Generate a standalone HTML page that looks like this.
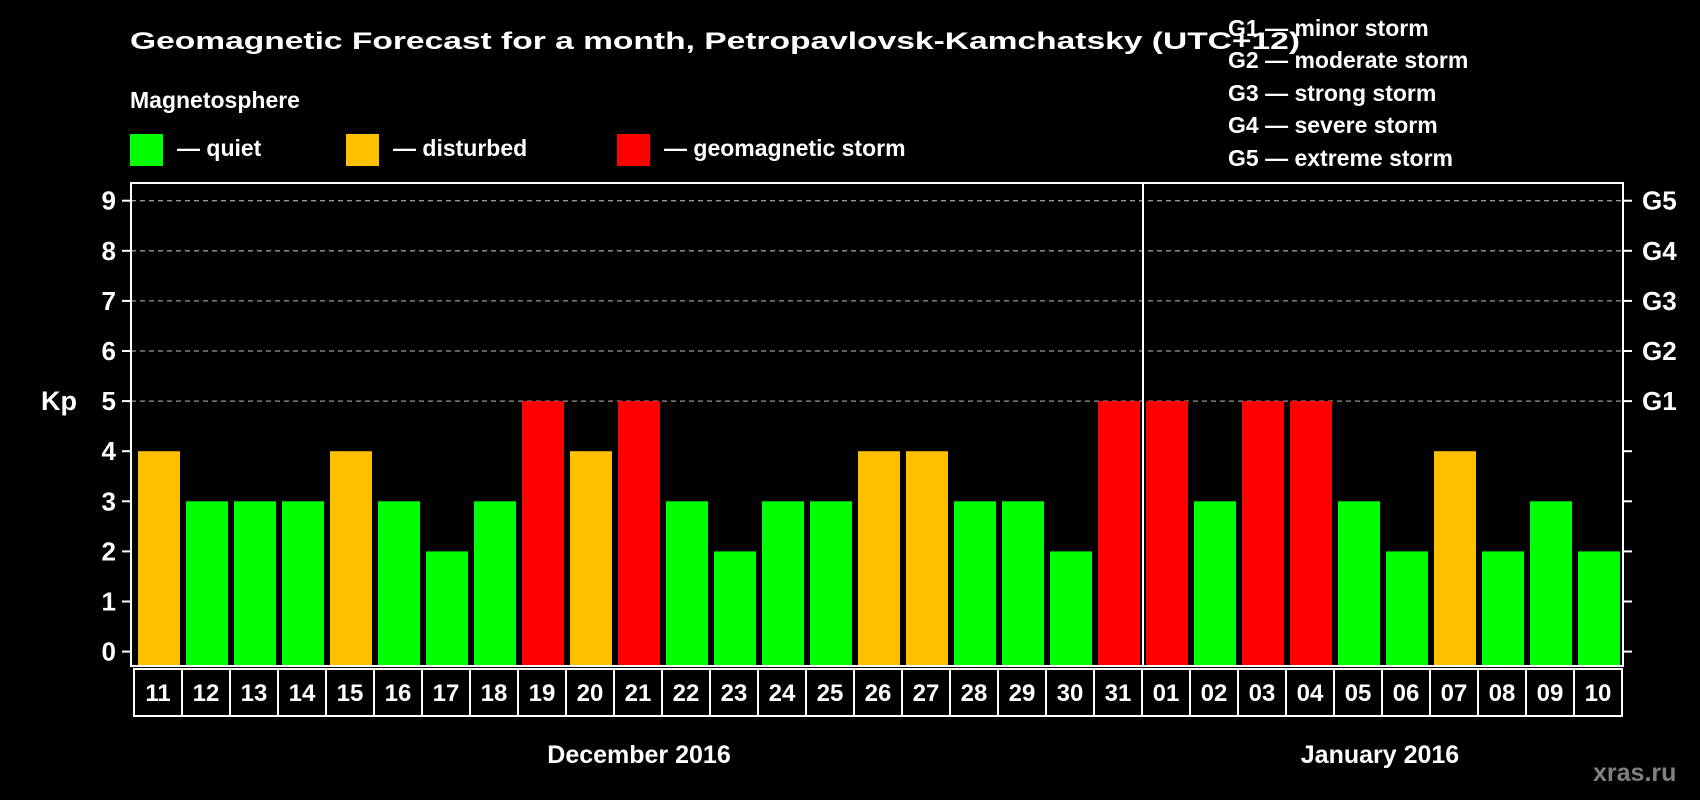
<!DOCTYPE html>
<html><head><meta charset="utf-8"><style>
html,body{margin:0;padding:0;background:#000;}
svg{display:block;}
text{font-family:"Liberation Sans",Arial,sans-serif;font-weight:bold;fill:#fff;}
</style></head><body>
<svg id="chart" width="1700" height="800" viewBox="0 0 1700 800" xmlns="http://www.w3.org/2000/svg">
<rect x="0" y="0" width="1700" height="800" fill="#000"/>
<text x="130" y="49" font-size="24" textLength="1170" lengthAdjust="spacingAndGlyphs">Geomagnetic Forecast for a month, Petropavlovsk-Kamchatsky (UTC+12)</text>
<text x="130" y="108" font-size="23">Magnetosphere</text>
<g><rect x="130" y="134" width="33" height="32" fill="#00ff00"/><text x="177" y="156" font-size="23">— quiet</text></g>
<g><rect x="346" y="134" width="33" height="32" fill="#ffc000"/><text x="393" y="156" font-size="23">— disturbed</text></g>
<g><rect x="617" y="134" width="33" height="32" fill="#ff0000"/><text x="664" y="156" font-size="23">— geomagnetic storm</text></g>
<g font-size="23">
<text x="1228" y="36">G1 — minor storm</text>
<text x="1228" y="68">G2 — moderate storm</text>
<text x="1228" y="101">G3 — strong storm</text>
<text x="1228" y="133">G4 — severe storm</text>
<text x="1228" y="166">G5 — extreme storm</text>
</g>
<text x="41" y="410" font-size="27">Kp</text>
<g id="grid"></g>
<g id="bars"></g>
<g id="axes"></g>
<text x="639" y="763" font-size="25" text-anchor="middle">December 2016</text>
<text x="1380" y="763" font-size="25" text-anchor="middle">January 2016</text>
<text x="1593" y="781" font-size="25" style="fill:#808080">xras.ru</text>
</svg>
<script>
const days = ["11","12","13","14","15","16","17","18","19","20","21","22","23","24","25","26","27","28","29","30","31","01","02","03","04","05","06","07","08","09","10"];
const kpValues = [4,3,3,3,4,3,2,3,5,4,5,3,2,3,3,4,4,3,3,2,5,5,3,5,5,3,2,4,2,3,2];
const yTicks = [0,1,2,3,4,5,6,7,8,9];
const gLabels = ["","","","","","G1","G2","G3","G4","G5"];

const NS = "http://www.w3.org/2000/svg";
const left = 134, pitch = 48, frameL = 131, frameR = 1623, frameT = 183, frameB = 666;
const y0 = 651.6, unit = 50.1;
function yScale(v){ return y0 - v*unit; }
function xScale(i){ return left + i*pitch; }
function mk(tag, attrs, parent){ const e = document.createElementNS(NS, tag); for (const k in attrs) e.setAttribute(k, attrs[k]); parent.appendChild(e); return e; }
const grid = document.getElementById('grid'), bars = document.getElementById('bars'), axes = document.getElementById('axes');

yTicks.forEach((t, i) => {
  const y = yScale(t);
  if (t >= 5) {
    const g = mk('line', {x1: frameL, x2: frameR, y1: y, y2: y, stroke: '#999', 'stroke-width': 1.3, 'stroke-dasharray': '5 4'}, grid);
    
    
  }
  const tl = mk('line', {x1: 122, x2: frameL, y1: y, y2: y, stroke: '#fff', 'stroke-width': 2}, axes);
  
  
  const tr = mk('line', {x1: frameR, x2: frameR + 9, y1: y, y2: y, stroke: '#fff', 'stroke-width': 2}, axes);
  
  
  const lab = mk('text', {x: 116, y: y + 9, 'font-size': 26, 'text-anchor': 'end'}, axes);
  lab.textContent = String(t);
  
  
  if (gLabels[i]) {
    const gl = mk('text', {x: 1642, y: y + 9, 'font-size': 26}, axes);
    gl.textContent = gLabels[i];
    
    
  }
});

kpValues.forEach((v, i) => {
  const color = v >= 5 ? '#ff0000' : (v === 4 ? '#ffc000' : '#00ff00');
  const top = yScale(v);
  const b = mk('rect', {x: xScale(i) + 4, y: top, width: 42, height: frameB - top, fill: color}, bars);
  
  
  const c = mk('rect', {x: xScale(i), y: 669, width: pitch, height: 47, fill: 'none', stroke: '#fff', 'stroke-width': 2}, axes);
  
  
  const t = mk('text', {x: xScale(i) + pitch/2, y: 701, 'font-size': 24, 'text-anchor': 'middle'}, axes);
  t.textContent = days[i];
  
  
});

const frame = mk('rect', {x: frameL, y: frameT, width: frameR - frameL, height: frameB - frameT, fill: 'none', stroke: '#fff', 'stroke-width': 2}, axes);


const divX = xScale(days.indexOf('01')) + 1;
const div = mk('line', {x1: divX, x2: divX, y1: frameT, y2: frameB, stroke: '#fff', 'stroke-width': 2}, axes);


</script>
</body></html>
